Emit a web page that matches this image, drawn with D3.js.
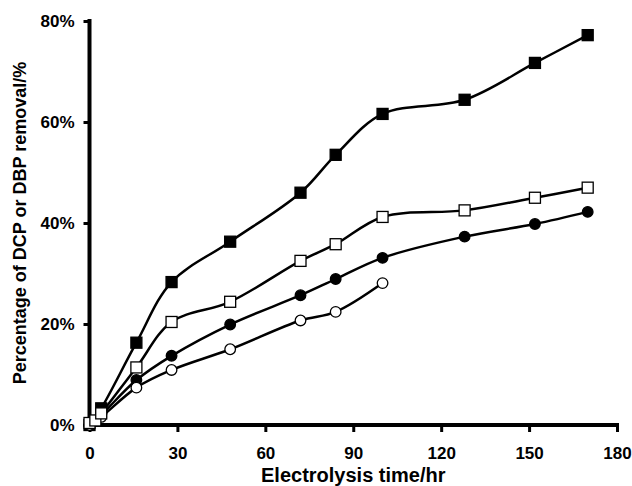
<!DOCTYPE html>
<html>
<head>
<meta charset="utf-8">
<script src="https://cdn.jsdelivr.net/npm/d3@7"></script>
<style>
  body { margin: 0; background: #fff; }
  svg { display: block; font-family: "Liberation Sans", Arial, sans-serif; }
</style>
</head>
<body>
<svg id="chart" width="632" height="486"></svg>
<script>
// hours of electrolysis and removal (%) for each series
var timeFilledSquare = [0, 4, 16, 28, 48, 72, 84, 100, 128, 152, 170];
var filledSquare     = [0, 3.3, 16.3, 28.3, 36.3, 46.0, 53.5, 61.6, 64.4, 71.7, 77.2];

var timeOpenSquare   = [0, 2, 4, 16, 28, 48, 72, 84, 100, 128, 152, 170];
var openSquare       = [0.4, 0.9, 2.3, 11.4, 20.4, 24.4, 32.5, 35.8, 41.2, 42.5, 45.0, 47.0];

var timeFilledCircle = [0, 4, 16, 28, 48, 72, 84, 100, 128, 152, 170];
var filledCircle     = [0, 2.0, 8.9, 13.7, 19.9, 25.7, 28.9, 33.1, 37.3, 39.8, 42.2];

var timeOpenCircle   = [0, 4, 16, 28, 48, 72, 84, 100];
var openCircle       = [0, 1.6, 7.4, 10.9, 15.0, 20.7, 22.4, 28.1];

var xTicks = [0, 30, 60, 90, 120, 150, 180];
var yTicks = [0, 20, 40, 60, 80];

var series = [
    {t: timeFilledSquare, v: filledSquare, shape: 'square', fill: '#000'},
    {t: timeFilledCircle, v: filledCircle, shape: 'circle', fill: '#000'},
    {t: timeOpenCircle, v: openCircle, shape: 'circle', fill: '#fff'},
    {t: timeOpenSquare, v: openSquare, shape: 'square', fill: '#fff'}
];

var svg = d3.select('#chart');

var x = d3.scaleLinear().domain([0, 180]).range([89.5, 617]);
var y = d3.scaleLinear().domain([0, 80]).range([425, 21]);

// axes
var xAxis = svg.append('g')
    .attr('transform', 'translate(0,' + y(0) + ')')
    .call(d3.axisBottom(x).tickValues(xTicks).tickSize(7).tickSizeOuter(0).tickPadding(15))
    .call(g => {
        g.select('.domain').attr('stroke-width', 4).attr('stroke', '#000')
            .attr('d', 'M' + (x(0) - 2) + ',0H' + (x(180) + 2))
        g.selectAll('.tick line').attr('stroke-width', 3)
        g.selectAll('.tick text').attr('font-size', 17).attr('font-weight', 'bold').attr('fill', '#000')
            .attr('font-family', '"Liberation Sans", Arial, sans-serif')
    })

var yAxis = svg.append('g')
    .attr('transform', 'translate(' + x(0) + ',0)')
    .call(d3.axisLeft(y).tickValues(yTicks).tickSize(6).tickSizeOuter(0).tickPadding(9)
        .tickFormat(d => d + '%'))
    .call(g => {
        g.select('.domain').attr('stroke-width', 4).attr('stroke', '#000')
            .attr('d', 'M0,' + (y(80) - 2) + 'V' + (y(0) + 2))
        g.selectAll('.tick line').attr('stroke-width', 3)
        g.selectAll('.tick text').attr('font-size', 17).attr('font-weight', 'bold').attr('fill', '#000')
            .attr('font-family', '"Liberation Sans", Arial, sans-serif')
    })

// axis titles
svg.append('text')
    .attr('x', (x(0) + x(180)) / 2)
    .attr('y', 482)
    .attr('text-anchor', 'middle')
    .attr('font-size', 20)
    .attr('font-weight', 'bold')
    .text('Electrolysis time/hr')

svg.append('text')
    .attr('transform', 'translate(26,' + (y(0) + y(80)) / 2 + ') rotate(-90)')
    .attr('text-anchor', 'middle')
    .attr('font-size', 18)
    .attr('font-weight', 'bold')
    .text('Percentage of DCP or DBP removal/%')

var line = d3.line()
    .x(d => x(d[0]))
    .y(d => y(d[1]))
    .curve(d3.curveCatmullRom.alpha(0.5));

series.forEach(s => {
    var pts = s.t.map((t, i) => [t, s.v[i]]);
    var g = svg.append('g');
    g.append('path')
        .attr('d', line(pts))
        .attr('fill', 'none')
        .attr('stroke', '#000')
        .attr('stroke-width', 2.5);
    if (s.shape === 'square') {
        g.selectAll('rect').data(pts).enter().append('rect')
            .attr('x', d => x(d[0]) - 5.5)
            .attr('y', d => y(d[1]) - 5.5)
            .attr('width', 11)
            .attr('height', 11)
            .attr('fill', s.fill)
            .attr('stroke', '#000')
            .attr('stroke-width', 1.3);
    } else {
        g.selectAll('circle').data(pts).enter().append('circle')
            .attr('cx', d => x(d[0]))
            .attr('cy', d => y(d[1]))
            .attr('r', 5.3)
            .attr('fill', s.fill)
            .attr('stroke', '#000')
            .attr('stroke-width', 1.3);
    }
});
</script>
</body>
</html>
